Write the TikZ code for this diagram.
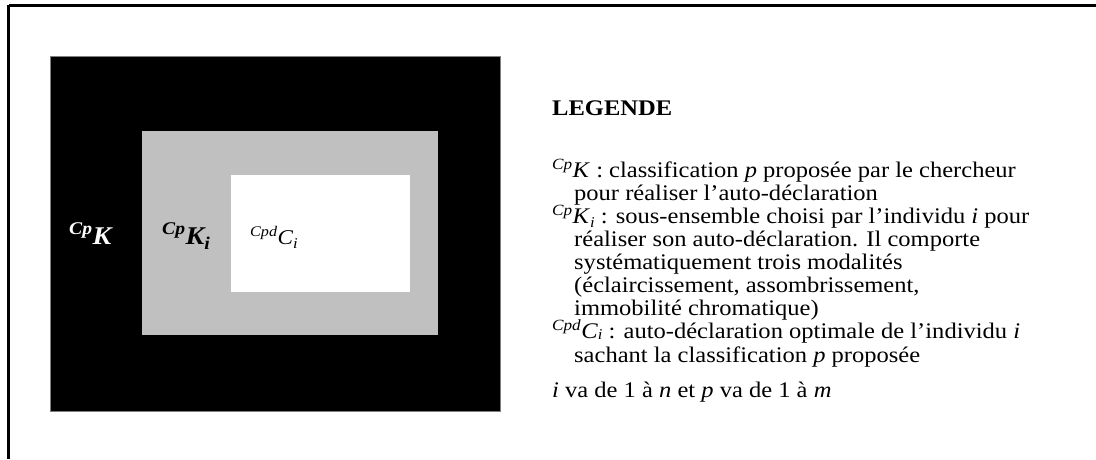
\documentclass[tikz,border=0pt]{standalone}
\usepackage{fontspec}
\setmainfont{Liberation Serif}[FakeStretch=1.1]
\newcommand\lsub[3][-0.2em]{\raisebox{#1}{\fontsize{#2}{#2}\selectfont\itshape #3}}
\begin{document}
\begin{tikzpicture}[x=1pt,y=-1pt,
  legtext/.style={anchor=base west, inner sep=0pt, font=\fontsize{22.3}{23}\selectfont},
  boxlabel/.style={anchor=base west, inner sep=0pt, font=\fontsize{25.5}{27}\selectfont},
  frameline/.style={line width=3pt}]
\useasboundingbox (0,0) rectangle (1096,459);
% frame
\draw[frameline] (8.8,5.3) -- (1096,5.3);
\draw[frameline] (8.8,5.3) -- (8.8,459);
% nested rectangles
\filldraw[fill=black, draw=gray, line width=0.6pt] (50,56) rectangle (500,411);
\filldraw[fill={rgb,255:red,192;green,192;blue,192}, draw=none] (142,131) rectangle (438,335);
\fill[white] (231,175) rectangle (410,292);
% labels in boxes
\node[boxlabel, text=white] (lk) at (69,244) {\bfseries\itshape\textsuperscript{Cp}K};
\node[boxlabel] (lki) at (162,244) {\bfseries\itshape\textsuperscript{Cp}K\lsub{18}{i}};
\node[boxlabel, font=\fontsize{21}{23}\selectfont] (lci) at (250,244) {\itshape\textsuperscript{Cpd}C\lsub{15}{i}};
% legend
\node[legtext] (leg) at (552,115) {\bfseries LEGENDE};
\node[legtext] (l1) at (552,177) {\textsuperscript{\itshape Cp}\textit{K} : classification \textit{p} proposée par le chercheur};
\node[legtext] (l2) at (574,200) {pour réaliser l’auto-déclaration};
\node[legtext] (l3) at (552,223) {\textsuperscript{\itshape Cp}\textit{K}\lsub{15}{i} : sous-ensemble choisi par l’individu \textit{i} pour};
\node[legtext] (l4) at (574,246) {réaliser son auto-déclaration. Il comporte};
\node[legtext] (l5) at (574,269) {systématiquement trois modalités};
\node[legtext] (l6) at (574,292) {(éclaircissement, assombrissement,};
\node[legtext] (l7) at (574,315) {immobilité chromatique)};
\node[legtext] (l8) at (552,338) {\textsuperscript{\itshape Cpd}\textit{C}\lsub[-0.08em]{15}{i} : auto-déclaration optimale de l’individu \textit{i}};
\node[legtext] (l9) at (574,362) {sachant la classification \textit{p} proposée};
\node[legtext] (l10) at (552,397) {\textit{i} va de 1 à \textit{n} et \textit{p} va de 1 à \textit{m}};
\end{tikzpicture}
\end{document}
